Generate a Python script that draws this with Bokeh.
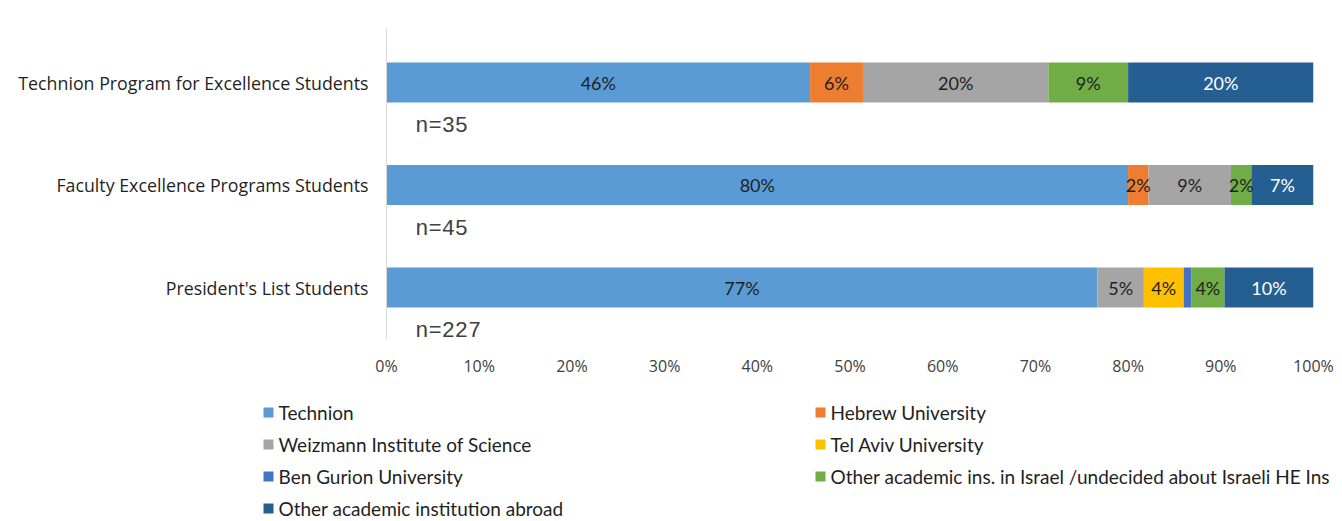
from bokeh.plotting import figure
from bokeh.models import (ColumnDataSource, Range1d, FixedTicker, NumeralTickFormatter,
                          LabelSet)
from bokeh.layouts import column
from bokeh.core.properties import value
from bokeh.embed import file_html
from bokeh.resources import INLINE
import numpy as np

# ---- data ----
groups = ["Technion Program for Excellence Students",
          "Faculty Excellence Programs Students",
          "President's List Students"]
sample_sizes = ["n=35", "n=45", "n=227"]
series = ["Technion", "Hebrew University", "Weizmann Institute of Science",
          "Tel Aviv University", "Ben Gurion University",
          "Other academic ins. in Israel /undecided about Israeli HE Ins",
          "Other academic institution abroad"]
technion = [45.7, 80.0, 76.7]
hebrew = [5.7, 2.2, 0.0]
weizmann = [20.0, 8.9, 5.0]
tel_aviv = [0.0, 0.0, 4.3]
ben_gurion = [0.0, 0.0, 0.8]
other_israel = [8.6, 2.2, 3.6]
abroad = [20.0, 6.7, 9.6]
x_ticks = [0, 0.1, 0.2, 0.3, 0.4, 0.5, 0.6, 0.7, 0.8, 0.9, 1.0]

colors = ["#5B9BD5", "#ED7D31", "#A5A5A5", "#FFC000", "#4472C4", "#70AD47", "#255E91"]
label_colors = ["#1F1F1F", "#1F1F1F", "#1F1F1F", "#1F1F1F", "#1F1F1F", "#1F1F1F", "#FFFFFF"]

values = [technion, hebrew, weizmann, tel_aviv, ben_gurion, other_israel, abroad]
keys = ["s%d" % i for i in range(len(series))]
ypos = [2, 1, 0]  # top row first

data = {"y": ypos}
for k, v in zip(keys, values):
    data[k] = [x / 100.0 for x in v]
source = ColumnDataSource(data)

W = 1340
MAIN_H = 390
p = figure(width=W, height=MAIN_H, output_backend="svg", toolbar_location=None,
           x_range=Range1d(0, 1), y_range=Range1d(-0.497, 2.527),
           min_border_left=386, min_border_right=W - 1313, min_border_top=28,
           min_border_bottom=52)
p.frame_align = False
p.outline_line_color = None
p.background_fill_color = "white"
p.border_fill_color = "white"
p.xgrid.visible = False
p.ygrid.visible = False

p.hbar_stack(keys, y="y", height=0.39, color=colors, line_color=None, source=source)

# segment labels
arr = np.array(values)
for i in range(len(keys)):
    left = arr[:i].sum(axis=0) / 100.0 if i > 0 else np.zeros(3)
    vals = arr[i] / 100.0
    mask = arr[i] >= 1.0
    lsrc = ColumnDataSource(dict(
        x=list((left + vals / 2)[mask]),
        y=[ypos[j] for j in range(3) if mask[j]],
        t=["%d%%" % round(arr[i][j]) for j in range(3) if mask[j]]))
    p.add_layout(LabelSet(x="x", y="y", text="t", source=lsrc,
                          text_align="center", text_baseline="middle",
                          text_font=value("Lato"), text_font_size="18px",
                          text_color=label_colors[i]))

# n= labels
nsrc = ColumnDataSource(dict(x=[0.031] * 3, y=[yy - 0.43 for yy in ypos], t=sample_sizes))
p.add_layout(LabelSet(x="x", y="y", text="t", source=nsrc, text_align="left",
                      text_baseline="middle", text_font=value("Liberation Mono"),
                      text_font_size="22px", text_color="#404040"))

# axes
p.xaxis.ticker = FixedTicker(ticks=x_ticks)
p.xaxis.formatter = NumeralTickFormatter(format="0%")
p.xaxis.axis_line_color = None
p.xaxis.major_tick_line_color = None
p.xaxis.major_tick_out = 0
p.xaxis.major_tick_in = 0
p.xaxis.minor_tick_line_color = None
p.xaxis.major_label_standoff = 16
p.xaxis.major_label_text_font = "Open Sans"
p.xaxis.major_label_text_font_size = "16px"
p.xaxis.major_label_text_color = "#404040"

p.yaxis.ticker = FixedTicker(ticks=ypos)
p.yaxis.major_label_overrides = {yy: g for yy, g in zip(ypos, groups)}
p.yaxis.axis_line_color = "#D9D9D9"
p.yaxis.major_tick_line_color = None
p.yaxis.major_tick_out = 0
p.yaxis.major_tick_in = 0
p.yaxis.minor_tick_line_color = None
p.yaxis.major_label_standoff = 18
p.yaxis.major_label_text_font = "Open Sans"
p.yaxis.major_label_text_font_size = "17.8px"
p.yaxis.major_label_text_color = "#1F1F1F"

# legend panel (separate figure below), laid out in two columns
LH = 130
lp = figure(width=W, height=LH, output_backend="svg", toolbar_location=None,
            x_range=Range1d(0, W), y_range=Range1d(LH, 0),
            x_axis_location=None, y_axis_location=None,
            min_border_left=0, min_border_right=0, min_border_top=0, min_border_bottom=0)
lp.frame_align = False
lp.outline_line_color = None
lp.xgrid.visible = False
lp.ygrid.visible = False

COL_X0, COL_DX, ROW_Y0, ROW_DY = 268, 552, 22, 32
lcol = [i % 2 for i in range(len(series))]
lrow = [i // 2 for i in range(len(series))]
leg = ColumnDataSource(dict(
    xs=[COL_X0 + c * COL_DX for c in lcol],
    xt=[COL_X0 + 10 + c * COL_DX for c in lcol],
    y=[ROW_Y0 + r * ROW_DY for r in lrow],
    label=series, color=colors))
lp.scatter(x="xs", y="y", marker="square", size=10, color="color", line_color=None, source=leg)
lp.text(x="xt", y="y", text="label", source=leg, text_baseline="middle", text_align="left",
        text_font=value("Lato"), text_font_size="19px", text_color="#1F1F1F")

layout = column(p, lp, spacing=0)
open("out.html", "w").write(file_html(layout, INLINE))
